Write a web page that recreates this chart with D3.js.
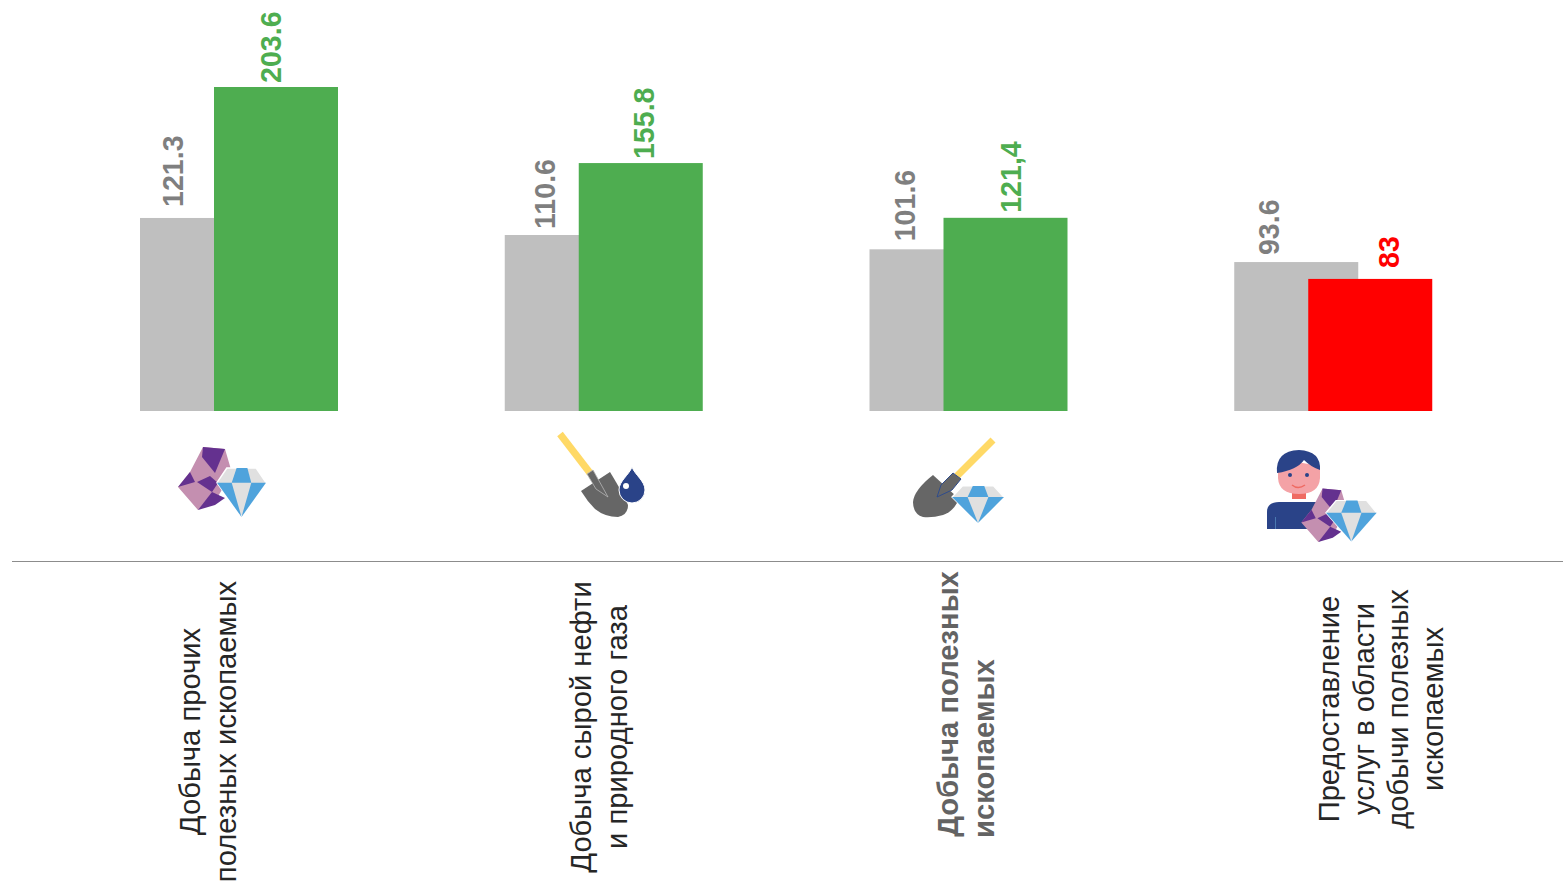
<!DOCTYPE html>
<html><head><meta charset="utf-8">
<script src="https://d3js.org/d3.v7.min.js"></script>
<style>html,body{margin:0;padding:0;background:#fff;overflow:hidden}svg{display:block}text{font-family:"Liberation Sans",Arial,sans-serif}</style>
</head><body><svg id="c" width="1563" height="881"></svg>
<script>
const categories=["mining-other","oil-gas","minerals","services"];
const prevValues=[121.3,110.6,101.6,93.6];
const currValues=[203.6,155.8,121.4,83];
const prevLabels=["121.3","110.6","101.6","93.6"];
const currLabels=["203.6","155.8","121,4","83"];
const currColors=["#4EAD50","#4EAD50","#4EAD50","#FF0000"];
const categoryLines=[
 ["Добыча прочих","полезных ископаемых"],
 ["Добыча сырой нефти","и природного газа"],
 ["Добыча полезных","ископаемых"],
 ["Предоставление","услуг в области","добычи полезных","ископаемых"]];
// label placement, kept apart from the values
const prevDx=[42.5,50,45,44.5],prevGap=[11,6,8,7];
const currDx=[140.5,149,151,165],currGap=[4,4,5,11];
const capX=[209,600,967,1382],capY=[731.5,727,704,709];

const svg=d3.select("#c");
const x=d3.scaleBand().domain(categories).range([140,1599]);
const y=d3.scaleLinear().domain([0,203.6]).range([411,87]);
const barW=124,off=74;
categories.forEach((c,i)=>{
 const x0=x(c);
 svg.append("rect").attr("x",x0).attr("y",y(prevValues[i])).attr("width",barW).attr("height",y(0)-y(prevValues[i])).attr("fill","#BFBFBF");
 svg.append("rect").attr("x",x0+off).attr("y",y(currValues[i])).attr("width",barW).attr("height",y(0)-y(currValues[i])).attr("fill",currColors[i]);
 svg.append("text").attr("transform",`translate(${x0+prevDx[i]},${y(prevValues[i])-prevGap[i]}) rotate(-90)`).attr("font-size",28.6).attr("font-weight","bold").attr("fill","#7F7F7F").text(prevLabels[i]);
 svg.append("text").attr("transform",`translate(${x0+currDx[i]},${y(currValues[i])-currGap[i]}) rotate(-90)`).attr("font-size",28.6).attr("font-weight","bold").attr("fill",currColors[i]).text(currLabels[i]);
});
svg.append("line").attr("x1",12).attr("x2",1563).attr("y1",561.5).attr("y2",561.5).attr("stroke","#8c8c8c").attr("stroke-width",1);

// category captions
categoryLines.forEach((ls,i)=>{
 const n=ls.length,lh=i===3?34.8:35.3;
 ls.forEach((t,j)=>{
  const px=capX[i]+(j-(n-1)/2)*lh+9;
  const tx=svg.append("text").attr("transform",`translate(${px},${capY[i]}) rotate(-90)`).attr("font-size",29.2).attr("fill",i===2?"#636363":"#262626").attr("text-anchor","middle").text(t);
  if(i===2){tx.attr("font-weight","bold");if(j===1)tx.attr("text-anchor","start").attr("transform",`translate(${px},838) rotate(-90)`);}
 });
});

// icons
const poly=(g,p,f)=>g.append("polygon").attr("points",p).attr("fill",f);
function diamond(g){
 poly(g,"0,30 20,0 80,0 100,30 50,100","#E0E0E0").attr("stroke","#fff").attr("stroke-width",3);
 poly(g,"40,0 62,0 70,30 30,30","#4FA3DC");
 poly(g,"0,30 30,30 50,100","#4FA3DC");
 poly(g,"100,30 70,30 50,100","#4FA3DC");
}
function rock(g){
 poly(g,"43,17 65,19 72,43 57,68 38,80 18,57 30,42","#C48FB0");
 poly(g,"43,17 65,19 55,43 42,27","#64318F");
 poly(g,"18,57 30,42 35,52","#64318F");
 poly(g,"37,52 50,46 58,53 52,62","#64318F");
 poly(g,"52,62 65,68 55,75 38,80","#64318F");
}
const g1=svg.append("g").attr("transform","translate(160,430)");
rock(g1);
diamond(g1.append("g").attr("transform","translate(57,38) scale(.49,.49)"));

const g2=svg.append("g").attr("transform","translate(540,425)");
g2.append("line").attr("x1",20).attr("y1",9).attr("x2",50).attr("y2",48).attr("stroke","#FFD966").attr("stroke-width",7);
g2.append("path").attr("d","M41,66 L70,47 Q84,70 88,80 Q88,90 78,92 Q65,92 55,84 Q47,76 41,66 Z").attr("fill","#666");
g2.append("path").attr("d","M47,49 L53,45 L68,72 L56,64 Z").attr("fill","#666").attr("stroke","#b5b5b5").attr("stroke-width",.8);
g2.append("path").attr("d","M92,42 C95,50 105,56 105,65 A13,13 0 0 1 79,65 C79,56 89,50 92,42 Z").attr("fill","#2A4388").attr("stroke","#fff").attr("stroke-width",1);
g2.append("circle").attr("cx",86).attr("cy",61).attr("r",3).attr("fill","#fff");

const g3=svg.append("g").attr("transform","translate(900,430)");
g3.append("line").attr("x1",93).attr("y1",10).attr("x2",57).attr("y2",46).attr("stroke","#FFD966").attr("stroke-width",7);
g3.append("path").attr("d","M33,45 L57,67 L57,73 Q52,82 43,85 Q32,88 23,87 Q13,84 13,72 Q14,60 33,45 Z").attr("fill","#666");
g3.append("path").attr("d","M53,43 L61,49 L52,60 L37,67 L41,55 Z").attr("fill","#666").attr("stroke","#2F4C8C").attr("stroke-width",1);
diamond(g3.append("g").attr("transform","translate(52,56) scale(.52,.37)"));

const g4=svg.append("g").attr("transform","translate(1255,440)");
g4.append("path").attr("d","M12,89 L12,72 Q12,62 24,62 L72,62 L72,89 Z").attr("fill","#2A4388");
g4.append("line").attr("x1",20.5).attr("x2",20.5).attr("y1",77).attr("y2",89).attr("stroke","#4a78b0").attr("stroke-width",1);
g4.append("rect").attr("x",37).attr("y",53).attr("width",14).attr("height",6).attr("fill","#EF6A62");
g4.append("path").attr("d","M23,30 L23,38 Q24,54 44,54 Q64,54 65,38 L65,26 L30,20 Z").attr("fill","#F4A2A6");
g4.append("path").attr("d","M22,33 Q20,11 44,10 Q66,11 65,30 Q56,27 49,20 Q42,30 22,33 Z").attr("fill","#2A4388");
g4.append("circle").attr("cx",35).attr("cy",35).attr("r",2).attr("fill","#2A4388");
g4.append("circle").attr("cx",52).attr("cy",35).attr("r",2).attr("fill","#2A4388");
g4.append("path").attr("d","M37,45 Q43,50 50,45").attr("fill","none").attr("stroke","#EF6A62").attr("stroke-width",1.5);
rock(g4.append("g").attr("transform","translate(31,34) scale(.85)"));
diamond(g4.append("g").attr("transform","translate(71,60.5) scale(.507,.41)"));
</script></body></html>
